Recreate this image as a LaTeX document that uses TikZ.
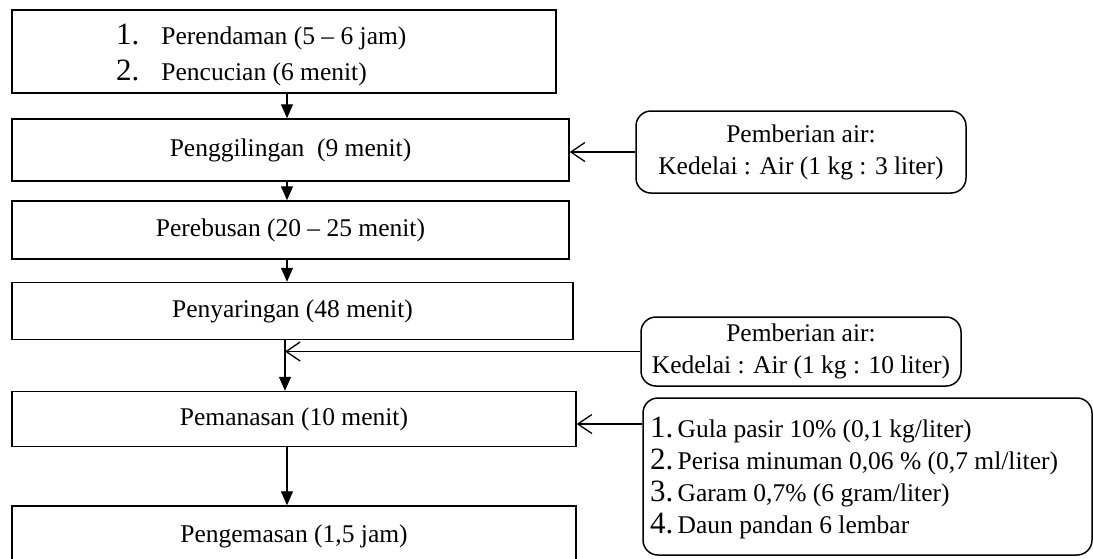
\documentclass[tikz,border=0pt]{standalone}
\usepackage{fontspec}
\setmainfont{Liberation Serif}
\usetikzlibrary{arrows.meta}
\newcommand{\bignum}[1]{{\fontsize{31}{31}\selectfont #1}}
\begin{document}
\begin{tikzpicture}[x=1pt,y=-1pt,
  txt/.style={font=\fontsize{25.5}{32}\selectfont},
  procbox/.style={draw,line width=1.5pt,inner sep=0pt,txt},
  notebox/.style={draw,line width=1.5pt,rounded corners=15pt,inner sep=0pt,txt,align=center},
  flow/.style={line width=1.3pt,-{Triangle[length=14pt,width=12pt]}},
  feed/.style={line width=1.3pt,-{Straight Barb[length=14pt,width=19pt,line width=1.3pt]}}]
\useasboundingbox (0,0) rectangle (1093,558);
\node[procbox,minimum width=544pt,minimum height=83pt] (b1) at (284,51.5) {};
\node[txt,anchor=west,align=left,inner sep=0pt,font=\fontsize{25.5}{36}\selectfont] (b1t) at (116,55)
  {\bignum{1.}\hspace{22pt}Perendaman (5 – 6 jam)\\\bignum{2.}\hspace{22pt}Pencucian (6 menit)};
\node[procbox,minimum width=557pt,minimum height=62pt] (b2) at (290.5,150) {Penggilingan\ \ (9 menit)};
\node[procbox,minimum width=557pt,minimum height=58pt] (b3) at (290.5,230) {Perebusan (20 – 25 menit)};
\node[procbox,minimum width=561pt,minimum height=57pt] (b4) at (292.5,311) {Penyaringan (48 menit)};
\node[procbox,minimum width=564pt,minimum height=55pt] (b5) at (294,419) {Pemanasan (10 menit)};
\node[procbox,minimum width=564pt,minimum height=60pt] (b6) at (294,536) {Pengemasan (1,5 jam)};
\node[notebox,minimum width=330pt,minimum height=82pt] (ra) at (801,152)
  {Pemberian air:\\Kedelai : Air (1 kg : 3 liter)};
\node[notebox,minimum width=320pt,minimum height=69pt] (rb) at (801,351.5)
  {Pemberian air:\\Kedelai : Air (1 kg : 10 liter)};
\node[notebox,minimum width=449pt,minimum height=157pt] (rc) at (867.5,476.5) {};
\node[txt,anchor=west,align=left,inner sep=0pt] (rct) at (650,478)
  {\bignum{1.}\,Gula pasir 10\% (0,1 kg/liter)\\
   \bignum{2.}\,Perisa minuman 0,06 \% (0,7 ml/liter)\\
   \bignum{3.}\,Garam 0,7\% (6 gram/liter)\\
   \bignum{4.}\,Daun pandan 6 lembar};
\coordinate (colx) at (287,0);
\coordinate (colw) at (285,0);
\draw[flow] (b1.south -| colx) -- (b2.north -| colx);
\draw[flow] (b2.south -| colx) -- (b3.north -| colx);
\draw[flow] (b3.south -| colx) -- (b4.north -| colx);
\draw[flow] (b4.south -| colw) -- (b5.north -| colw);
\draw[flow] (b5.south -| colx) -- (b6.north -| colx);
\coordinate (jn) at (colw |- rb.west);
\draw[feed] (rb.west) -- (jn);
\draw[feed] (ra.west) -- (ra.west -| b2.east);
\coordinate (rcin) at ([yshift=52.5pt]rc.west);
\draw[feed] (rcin) -- (rcin -| b5.east);
\end{tikzpicture}
\end{document}
